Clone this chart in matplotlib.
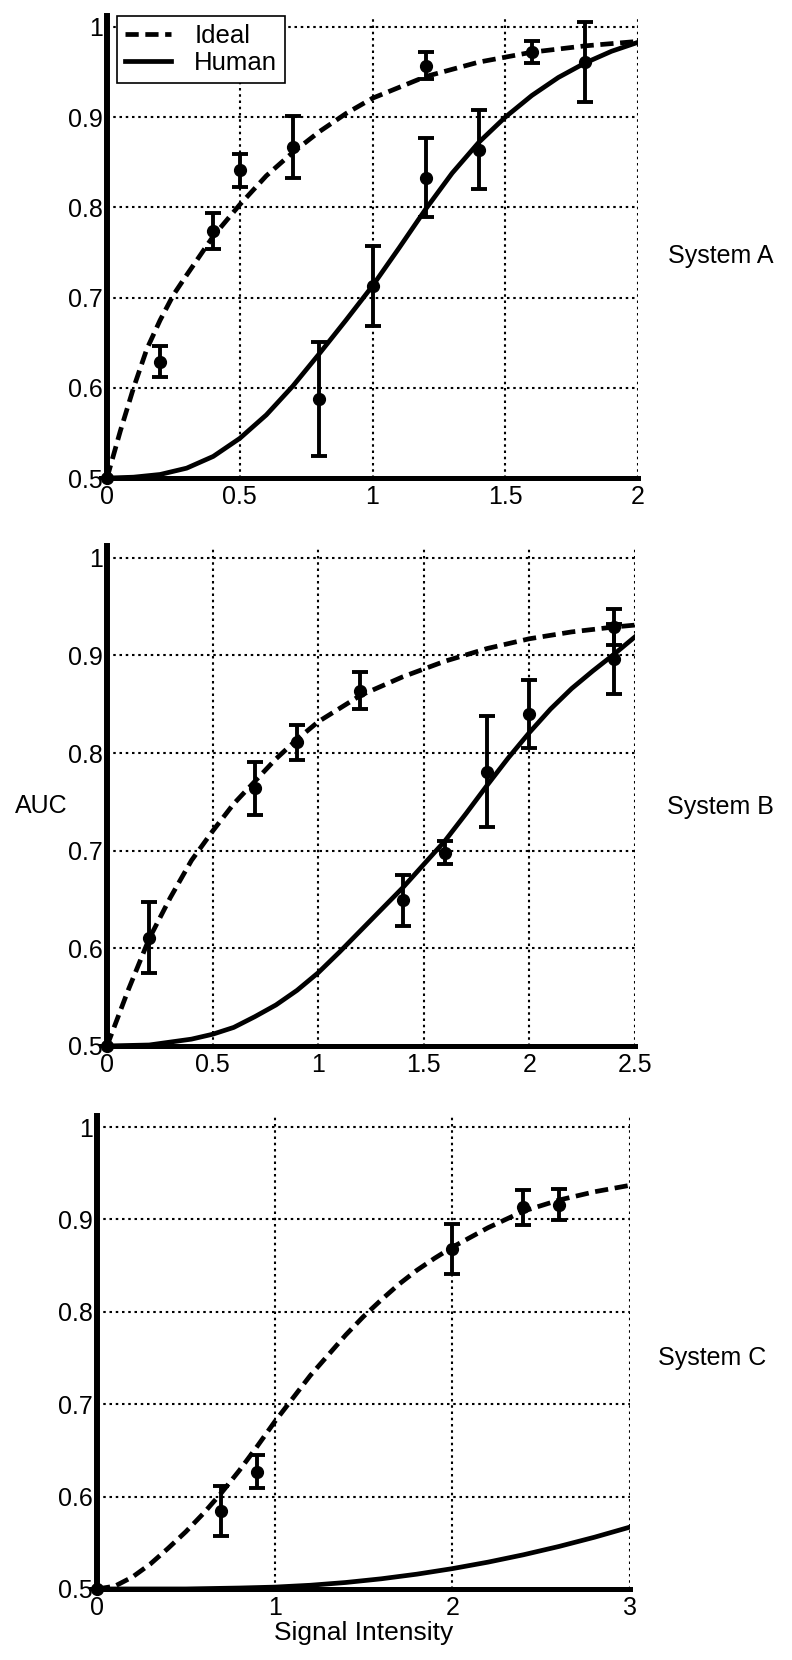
import numpy as np
import matplotlib
matplotlib.use("Agg")
import matplotlib.pyplot as plt

plt.rcParams['font.family'] = ['Liberation Sans', 'DejaVu Sans']

# ---- System A ----
a_ideal_x = [0, 0.05, 0.1, 0.15, 0.2, 0.25, 0.3, 0.4, 0.5, 0.6, 0.7, 0.8, 0.9, 1.0, 1.2, 1.4, 1.6, 1.8, 2.0]
a_ideal_y = [0.5, 0.552, 0.600, 0.643, 0.675, 0.703, 0.725, 0.768, 0.803, 0.835, 0.861, 0.884, 0.904, 0.921,
             0.945, 0.961, 0.972, 0.979, 0.984]
a_human_x = [0, 0.1, 0.2, 0.3, 0.4, 0.5, 0.6, 0.7, 0.8, 0.9, 1.0, 1.1, 1.2, 1.3, 1.4, 1.5, 1.6, 1.7, 1.8, 1.9, 2.0]
a_human_y = [0.5, 0.501, 0.504, 0.511, 0.524, 0.544, 0.570, 0.602, 0.638, 0.675, 0.713, 0.755, 0.798, 0.838,
             0.872, 0.900, 0.924, 0.944, 0.960, 0.973, 0.983]
a_pts_x = [0, 0.2, 0.4, 0.5, 0.7, 1.2, 1.6, 0.8, 1.0, 1.2, 1.4, 1.8]
a_pts_y = [0.5, 0.629, 0.774, 0.841, 0.867, 0.957, 0.972, 0.588, 0.713, 0.833, 0.864, 0.961]
a_pts_err = [0, 0.017, 0.020, 0.018, 0.034, 0.015, 0.012, 0.063, 0.044, 0.044, 0.044, 0.044]
a_xticks = [0, 0.5, 1, 1.5, 2]
a_xlabels = ['0', '0.5', '1', '1.5', '2']

# ---- System B ----
b_ideal_x = [0, 0.1, 0.2, 0.3, 0.4, 0.5, 0.6, 0.7, 0.8, 0.9, 1.0, 1.2, 1.4, 1.6, 1.8, 2.0, 2.2, 2.4, 2.5]
b_ideal_y = [0.5, 0.557, 0.610, 0.652, 0.690, 0.720, 0.748, 0.771, 0.794, 0.814, 0.832, 0.859, 0.878,
             0.894, 0.907, 0.917, 0.924, 0.929, 0.931]
b_human_x = [0, 0.2, 0.3, 0.4, 0.5, 0.6, 0.7, 0.8, 0.9, 1.0, 1.1, 1.2, 1.3, 1.4, 1.5, 1.6, 1.7, 1.8, 1.9,
             2.0, 2.1, 2.2, 2.3, 2.4, 2.5]
b_human_y = [0.5, 0.501, 0.504, 0.507, 0.512, 0.519, 0.530, 0.542, 0.557, 0.575, 0.596, 0.618, 0.640,
             0.662, 0.686, 0.710, 0.738, 0.767, 0.795, 0.821, 0.845, 0.866, 0.884, 0.901, 0.919]
b_pts_x = [0, 0.2, 0.7, 0.9, 1.2, 2.4, 1.4, 1.6, 1.8, 2.0, 2.4]
b_pts_y = [0.5, 0.611, 0.764, 0.811, 0.864, 0.929, 0.649, 0.698, 0.781, 0.840, 0.896]
b_pts_err = [0, 0.036, 0.027, 0.018, 0.019, 0.018, 0.026, 0.012, 0.057, 0.035, 0.036]
b_xticks = [0, 0.5, 1, 1.5, 2, 2.5]
b_xlabels = ['0', '0.5', '1', '1.5', '2', '2.5']

# ---- System C ----
c_ideal_x = [0, 0.1, 0.2, 0.3, 0.4, 0.5, 0.6, 0.7, 0.8, 0.9, 1.0, 1.1, 1.2, 1.3, 1.4, 1.5, 1.6, 1.7, 1.8,
             1.9, 2.0, 2.2, 2.4, 2.6, 2.8, 3.0]
c_ideal_y = [0.5, 0.503, 0.513, 0.527, 0.544, 0.562, 0.582, 0.604, 0.628, 0.654, 0.681, 0.706, 0.731,
             0.753, 0.775, 0.795, 0.813, 0.830, 0.845, 0.858, 0.870, 0.891, 0.909, 0.921, 0.930, 0.937]
c_human_x = [0, 0.5, 0.8, 1.0, 1.2, 1.4, 1.6, 1.8, 2.0, 2.2, 2.4, 2.6, 2.8, 3.0]
c_human_y = [0.5, 0.5, 0.501, 0.502, 0.504, 0.507, 0.511, 0.516, 0.522, 0.529, 0.537, 0.546, 0.556, 0.567]
c_pts_x = [0, 0.7, 0.9, 2.0, 2.4, 2.6]
c_pts_y = [0.5, 0.584, 0.627, 0.868, 0.913, 0.916]
c_pts_err = [0, 0.027, 0.018, 0.027, 0.019, 0.017]
c_xticks = [0, 1, 2, 3]
c_xlabels = ['0', '1', '2', '3']

yticks = [0.5, 0.6, 0.7, 0.8, 0.9, 1.0]
ylabels = ['0.5', '0.6', '0.7', '0.8', '0.9', '1']
systems = ['System A', 'System B', 'System C']

DASH = (2.8, 1.4)
FS = 18


def draw_panel(ax, ix, iy, hx, hy, px, py, perr, xticks, xlabels):
    ax.plot(ix, iy, color='k', lw=3.4, linestyle=(0, DASH), label='Ideal', zorder=3)
    ax.plot(hx, hy, color='k', lw=3.4, linestyle='-', label='Human', zorder=3)
    ax.errorbar(px, py, yerr=perr, fmt='o', color='k', ms=8.5, elinewidth=2.8,
                capsize=5.5, capthick=2.8, zorder=4, clip_on=False)
    ax.set_xlim(xticks[0], xticks[-1])
    ax.set_ylim(0.5, 1.012)
    ax.set_xticks(xticks)
    ax.set_xticklabels(xlabels)
    ax.set_yticks(yticks)
    ax.set_yticklabels(ylabels)
    ax.grid(True, color='k', linestyle=(0, (1.2, 1.8)), lw=1.5)
    ax.set_axisbelow(True)
    for s in ['top', 'right']:
        ax.spines[s].set_visible(False)
    ax.spines['left'].set_linewidth(4.3)
    ax.spines['bottom'].set_linewidth(3.6)
    ax.spines['left'].set_zorder(5)
    ax.spines['bottom'].set_zorder(5)
    ax.tick_params(axis='both', length=0, labelsize=FS)
    ax.tick_params(axis='y', pad=3)
    ax.tick_params(axis='x', pad=5)


fig = plt.figure(figsize=(7.92, 16.6), dpi=100)
axA = fig.add_axes([0.1351, 0.7120, 0.6705, 0.2783])
axB = fig.add_axes([0.1351, 0.3699, 0.6667, 0.3012])
axC = fig.add_axes([0.1225, 0.0428, 0.6730, 0.2849])

draw_panel(axA, a_ideal_x, a_ideal_y, a_human_x, a_human_y, a_pts_x, a_pts_y, a_pts_err, a_xticks, a_xlabels)
draw_panel(axB, b_ideal_x, b_ideal_y, b_human_x, b_human_y, b_pts_x, b_pts_y, b_pts_err, b_xticks, b_xlabels)
draw_panel(axC, c_ideal_x, c_ideal_y, c_human_x, c_human_y, c_pts_x, c_pts_y, c_pts_err, c_xticks, c_xlabels)

leg = axA.legend(loc='upper left', bbox_to_anchor=(0.019, 1.0), borderaxespad=0,
                 fontsize=18.5, handlelength=1.8, handletextpad=0.9, labelspacing=0.12,
                 borderpad=0.3, fancybox=False, framealpha=1, edgecolor='k')
leg.get_frame().set_linewidth(1.2)
leg.set_zorder(10)

axC.set_xlabel('Signal Intensity', fontsize=19, labelpad=1)

fig.text(668 / 792, 1 - 256 / 1660, systems[0], fontsize=FS, ha='left', va='center')
fig.text(667 / 792, 1 - 807 / 1660, systems[1], fontsize=FS, ha='left', va='center')
fig.text(658 / 792, 1 - 1358 / 1660, systems[2], fontsize=FS, ha='left', va='center')
fig.text(15 / 792, 1 - 806 / 1660, 'AUC', fontsize=FS, ha='left', va='center')

plt.savefig('out.png', dpi=100)
